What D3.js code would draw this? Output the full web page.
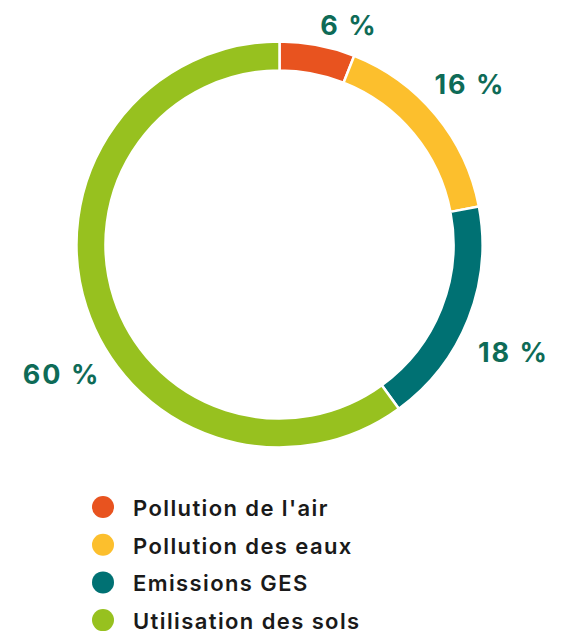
<!DOCTYPE html>
<html><head><meta charset="utf-8">
<script src="https://cdn.jsdelivr.net/npm/d3@7"></script>
<style>html,body{margin:0;padding:0;background:#fff;}svg{display:block;}</style>
</head><body>
<svg id="chart" width="570" height="636"></svg>
<script>
const categories = ["Pollution de l'air", "Pollution des eaux", "Emissions GES", "Utilisation des sols"];
const values = [6, 16, 18, 60];
const valueLabels = ["6 %", "16 %", "18 %", "60 %"];
const colors = ["#E8531F", "#FCBF2D", "#007173", "#97C11F"];

const svg = d3.select("#chart");
const cx = 279.5, cy = 244.5, outerR = 203, innerR = 174;
const pie = d3.pie().sort(null).value(d => d);
const arcs = pie(values);
const arc = d3.arc().innerRadius(innerR).outerRadius(outerR);
const g = svg.append("g").attr("transform", `translate(${cx},${cy})`);
g.selectAll("path").data(arcs).join("path")
  .attr("d", arc)
  .attr("fill", (d, i) => colors[i])
  .attr("stroke", "#fff").attr("stroke-width", 2.5);

// label placement (polar, degrees clockwise from top)
const labelPos = [[17.6, 230], [49.9, 249], [114.7, 257.5], [239.1, 254]];
g.selectAll("text.val").data(arcs).join("text")
  .attr("class", "val")
  .attr("x", (d, i) => labelPos[i][1] * Math.sin(labelPos[i][0] * Math.PI / 180))
  .attr("y", (d, i) => -labelPos[i][1] * Math.cos(labelPos[i][0] * Math.PI / 180))
  .attr("text-anchor", "middle").attr("dominant-baseline", "central")
  .attr("font-family", "Inter, 'Open Sans', sans-serif").attr("font-weight", 700)
  .attr("font-size", 27).attr("letter-spacing", 2).attr("fill", "#0E6B57")
  .text((d, i) => valueLabels[i]);

const leg = svg.append("g");
const rows = leg.selectAll("g").data(categories).join("g")
  .attr("transform", (d, i) => `translate(0,${507 + i * 37.7})`);
rows.append("circle").attr("cx", 103).attr("cy", 0).attr("r", 11).attr("fill", (d, i) => colors[i]);
rows.append("text").attr("x", 133).attr("y", 1).attr("dominant-baseline", "central")
  .attr("font-family", "Inter, 'Open Sans', sans-serif").attr("font-weight", 600)
  .attr("font-size", 22).attr("letter-spacing", 1.4).attr("fill", "#1A1A1A").text(d => d);
</script>
</body></html>
